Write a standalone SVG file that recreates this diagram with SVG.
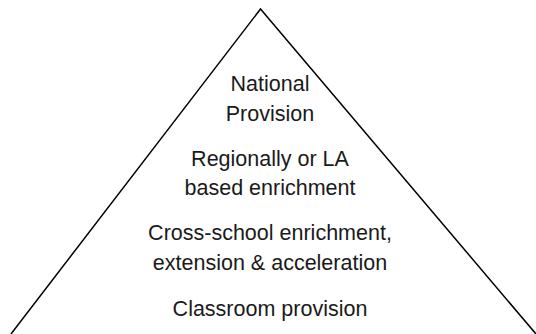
<svg xmlns="http://www.w3.org/2000/svg" width="536" height="334" viewBox="0 0 536 334">
<style>
.lbl{font-family:"Liberation Sans",Arial,sans-serif;font-size:21.5px;fill:#1a1a1a;text-anchor:middle}
.edge{fill:none;stroke:#000;stroke-width:1.5}
</style>
<rect width="536" height="334" fill="#fff"/>
<g id="connectors">
<polyline class="edge" points="11,334 260.5,9 536,334"/>
</g>
<g id="national">
<text class="lbl" x="270" y="91">National</text>
<text class="lbl" x="270" y="121">Provision</text>
</g>
<g id="regional">
<text class="lbl" x="270" y="166">Regionally or LA</text>
<text class="lbl" x="270" y="195">based enrichment</text>
</g>
<g id="cross-school">
<text class="lbl" x="270" y="240">Cross-school enrichment,</text>
<text class="lbl" x="270" y="270">extension &amp; acceleration</text>
</g>
<g id="classroom">
<text class="lbl" x="270" y="316">Classroom provision</text>
</g>
</svg>
